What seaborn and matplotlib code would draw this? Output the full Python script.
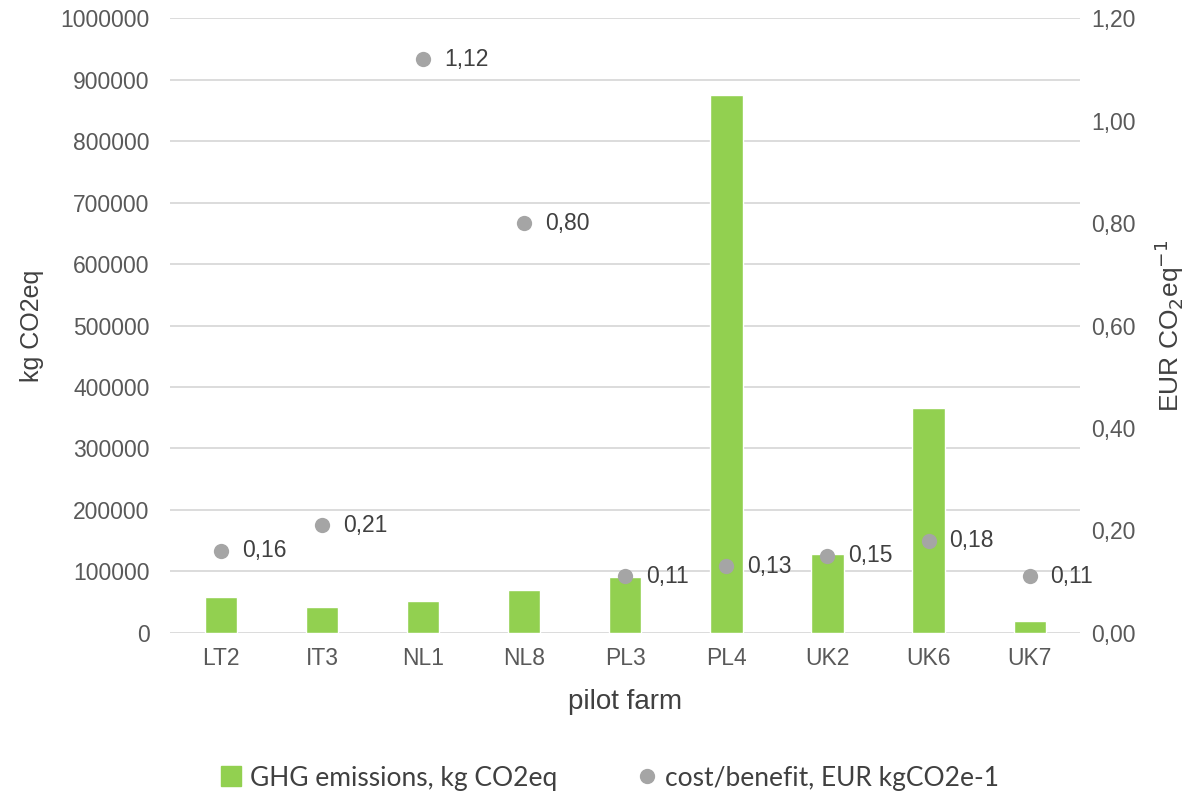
import matplotlib
matplotlib.use("Agg")
import matplotlib.pyplot as plt
import seaborn as sns
import pandas as pd
from matplotlib.lines import Line2D
from matplotlib.ticker import FuncFormatter, MultipleLocator

farms = ["LT2", "IT3", "NL1", "NL8", "PL3", "PL4", "UK2", "UK6", "UK7"]
ghg = [58500, 42300, 52000, 69400, 91500, 874800, 128500, 366000, 19000]
cost = [0.16, 0.21, 1.12, 0.80, 0.11, 0.13, 0.15, 0.18, 0.11]

df = pd.DataFrame({"farm": farms, "ghg": ghg, "cost": cost})

sns.set_theme(style="white")
plt.rcParams["font.family"] = ["Liberation Sans", "DejaVu Sans"]

fig = plt.figure(figsize=(11.91, 7.94), dpi=100)
ax = fig.add_axes([0.143, 0.203, 0.764, 0.774])
tick_col = "#595959"
bar_col = "#92d050"
pt_col = "#a5a5a5"
fs_tick = 16.5

sns.barplot(data=df, x="farm", y="ghg", color=bar_col, width=0.32, ax=ax,
            saturation=1, zorder=3)
ax.set_xlim(-0.5, 8.5)
ax.set_ylim(0, 1000000)
ax.yaxis.set_major_locator(MultipleLocator(100000))
ax.yaxis.set_major_formatter(FuncFormatter(lambda v, p: f"{int(round(v))}"))
ax.grid(axis="y", color="#d9d9d9", linewidth=1.3, zorder=0)
ax.set_axisbelow(True)
for s in ax.spines.values():
    s.set_visible(False)
ax.tick_params(axis="x", length=0, labelsize=fs_tick, colors=tick_col, pad=10)
ax.tick_params(axis="y", length=0, labelsize=fs_tick, colors=tick_col, pad=15)
ax.set_ylabel("kg CO2eq", fontsize=18, color="#404040", labelpad=12)
ax.set_xlabel("pilot farm", fontsize=20, color="#404040", labelpad=14)

ax2 = ax.twinx()
sns.stripplot(data=df, x="farm", y="cost", jitter=False, color=pt_col, size=11,
              ax=ax2, zorder=4)
ax2.set_xlim(-0.5, 8.5)
ax2.set_ylim(0, 1.2)
ax2.yaxis.set_major_locator(MultipleLocator(0.2))
ax2.yaxis.set_major_formatter(FuncFormatter(lambda v, p: f"{v:.2f}".replace(".", ",")))
for s in ax2.spines.values():
    s.set_visible(False)
ax2.tick_params(axis="y", length=0, labelsize=fs_tick, colors=tick_col, pad=8)
ax2.set_ylabel("EUR CO$_2$eq$^{-1}$", fontsize=19, color="#404040", labelpad=12)
for i, v in enumerate(cost):
    ax2.annotate(f"{v:.2f}".replace(".", ","), (i, v), xytext=(15, 0),
                 textcoords="offset points", va="center", ha="left",
                 fontsize=fs_tick, color="#404040")

handles = [
    Line2D([], [], marker="s", linestyle="", markersize=14, color=bar_col),
    Line2D([], [], marker="o", linestyle="", markersize=10, color=pt_col),
]
fig.legend(handles, ["GHG emissions, kg CO2eq", "cost/benefit, EUR kgCO2e-1"],
           loc="center", bbox_to_anchor=(0.512, 0.02), ncol=2, frameon=False,
           prop={"family": "Lato", "size": 19}, labelcolor="#404040",
           handlelength=0.8, handletextpad=0.3, columnspacing=3.0)

fig.savefig("out.png", dpi=100)
